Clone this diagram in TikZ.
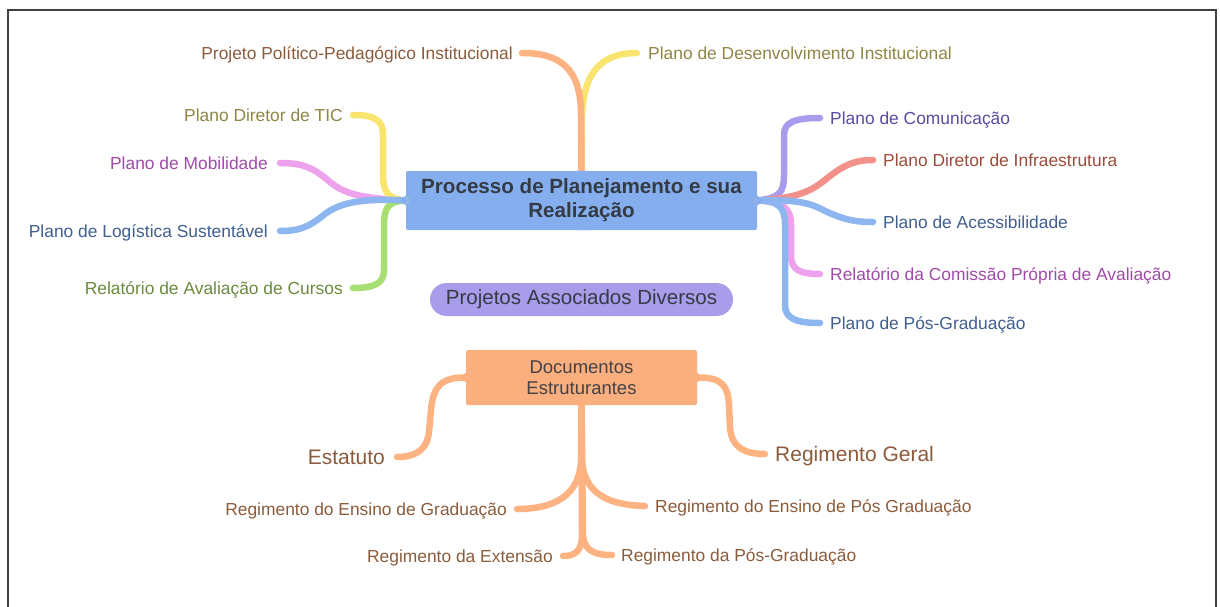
\documentclass[tikz,border=0pt]{standalone}
\usepackage{fontspec}
\setmainfont{Liberation Sans}
\definecolor{nblue}{HTML}{85AEEF}
\definecolor{npurple}{HTML}{A99CEB}
\definecolor{norange}{HTML}{FBAE7E}
\definecolor{lorange}{HTML}{FDB282}
\definecolor{lyellow}{HTML}{F8E46E}
\definecolor{lpink}{HTML}{EEA2EE}
\definecolor{lblue}{HTML}{8DB6F0}
\definecolor{lgreen}{HTML}{A8DE72}
\definecolor{lpurple}{HTML}{A89CEC}
\definecolor{lred}{HTML}{F2908A}
\definecolor{tbrown}{HTML}{8B5B3B}
\definecolor{tolive}{HTML}{8F8545}
\definecolor{tmag}{HTML}{A04AA8}
\definecolor{tnavy}{HTML}{405E8E}
\definecolor{tgreen}{HTML}{6A8A3C}
\definecolor{tpurp}{HTML}{5A4AA0}
\definecolor{tred}{HTML}{9B4B3B}
\definecolor{tdark}{HTML}{353B45}
\begin{document}
\begin{tikzpicture}[x=1pt,y=-1pt,
  lab/.style={font=\fontsize{17.4}{20}\selectfont, inner sep=0pt, text height=0.72em, text depth=0.06em, yshift=-3pt},
  biglab/.style={font=\fontsize{21}{24}\selectfont, inner sep=0pt, text height=0.72em, text depth=0.06em, yshift=-4pt},
  br/.style={line width=6.5pt, line cap=round, line join=round},
]
\useasboundingbox (0,0) rectangle (1220,606);
\draw[line width=1.2pt, black!75] (8,625) -- (8,10) -- (1216,10) -- (1216,625);

% main nodes
\node[fill=nblue, rounded corners=2pt, minimum width=351pt, minimum height=59pt, align=center,
  font=\bfseries\fontsize{20.6}{24}\selectfont, text=tdark, inner sep=0pt] (c) at (581.5,200.5)
  {Processo de Planejamento e sua\\Realização};
\node[fill=npurple, rounded corners=16.5pt, minimum width=303pt, minimum height=33pt,
  font=\fontsize{20.5}{24}\selectfont, text=tdark, inner sep=0pt] (p) at (581.5,299.5)
  {Projetos Associados Diversos};
\node[fill=norange, rounded corners=2pt, minimum width=231pt, minimum height=55pt, align=center,
  font=\fontsize{18.5}{21.5}\selectfont, text=tdark!90!brown, inner sep=0pt] (d) at (581.5,377.5)
  {Documentos\\Estruturantes};

% labels
\node[lab, anchor=east, text=tbrown] (ppi) at (513,53) {Projeto Político-Pedagógico Institucional};
\node[lab, anchor=west, text=tolive] (pdi) at (648,53) {Plano de Desenvolvimento Institucional};
\node[lab, anchor=east, text=tolive] (tic) at (343,115) {Plano Diretor de TIC};
\node[lab, anchor=east, text=tmag] (mob) at (268,163) {Plano de Mobilidade};
\node[lab, anchor=east, text=tnavy] (log) at (268,231) {Plano de Logística Sustentável};
\node[lab, anchor=east, text=tgreen] (rac) at (343,288) {Relatório de Avaliação de Cursos};
\node[lab, anchor=west, text=tpurp] (com) at (830,118) {Plano de Comunicação};
\node[lab, anchor=west, text=tred] (inf) at (883,160) {Plano Diretor de Infraestrutura};
\node[lab, anchor=west, text=tnavy] (ace) at (883,222) {Plano de Acessibilidade};
\node[lab, anchor=west, text=tmag] (rcp) at (830,274) {Relatório da Comissão Própria de Avaliação};
\node[lab, anchor=west, text=tnavy] (pos) at (830,323) {Plano de Pós-Graduação};
\node[biglab, anchor=east, text=tbrown] (est) at (385,457) {Estatuto};
\node[biglab, anchor=west, text=tbrown] (rg) at (775,454) {Regimento Geral};
\node[lab, anchor=east, text=tbrown] (reg) at (507,509) {Regimento do Ensino de Graduação};
\node[lab, anchor=west, text=tbrown] (repg) at (655,506) {Regimento do Ensino de Pós Graduação};
\node[lab, anchor=east, text=tbrown] (rext) at (553,556) {Regimento da Extensão};
\node[lab, anchor=west, text=tbrown] (rpos) at (621,555) {Regimento da Pós-Graduação};

% top branches
\draw[br, lyellow] (c.north) -- (582,115) .. controls (584,68) and (605,53) .. (637,53);
\draw[br, lorange] (c.north) -- (581,115) .. controls (581,68) and (560,53) .. (522,53);

% left branches
\draw[br, lpink] (c.west) .. controls (360,198) and (345,194) .. (330,182) .. controls (312,166) and (300,163) .. (280,163);
\draw[br, lyellow] (c.west) .. controls (388,199) and (383,192) .. (383,175) -- (383,135) .. controls (383,120) and (375,115) .. (353,115);
\draw[br, lgreen] (c.west) .. controls (388,201) and (384,208) .. (384,225) -- (384,270) .. controls (384,283) and (375,288) .. (353,288);
\draw[br, lblue] (c.west) .. controls (360,198) and (340,203) .. (325,214) .. controls (308,228) and (298,231) .. (280,231);

% right branches
\draw[br, lpink] (c.east) .. controls (785,201) and (791,210) .. (791,225) -- (791,255) .. controls (791,270) and (800,274) .. (820,274);
\draw[br, lblue] (c.east) .. controls (780,201) and (785,208) .. (785,225) -- (785,305) .. controls (785,318) and (795,323) .. (820,323);
\draw[br, lpurple] (c.east) .. controls (780,198) and (784,192) .. (784,175) -- (784,135) .. controls (784,122) and (795,118) .. (820,118);
\draw[br, lred] (c.east) .. controls (800,198) and (812,190) .. (825,180) .. controls (843,165) and (855,160) .. (873,160);
\draw[br, lblue] (c.east) .. controls (800,199) and (812,204) .. (825,211) .. controls (845,220) and (855,222) .. (873,222);

% documentos branches
\draw[br, lorange] (d.west) .. controls (442,377) and (433,386) .. (431,410) -- (429,432) .. controls (427,451) and (414,457) .. (397,457);
\draw[br, lorange] (d.east) .. controls (722,377) and (728,386) .. (729,405) -- (730,428) .. controls (732,448) and (745,454) .. (765,454);
\draw[br, lorange] (d.south) -- (581,460) .. controls (580,495) and (555,509) .. (517,509);
\draw[br, lorange] (d.south) -- (582,460) .. controls (584,495) and (610,505) .. (645,506);
\draw[br, lorange] (d.south) -- (582,535) .. controls (582,551) and (575,556) .. (563,556);
\draw[br, lorange] (d.south) -- (583,535) .. controls (584,551) and (595,555) .. (612,555);

% node tips
\fill[nblue] ([xshift=-6pt]c.north) -- ([yshift=-7pt]c.north) -- ([xshift=6pt]c.north) -- cycle;
\fill[nblue] ([xshift=-6pt]c.south) -- ([yshift=7pt]c.south) -- ([xshift=6pt]c.south) -- cycle;
\fill[nblue] ([yshift=-5pt]c.west) -- ([xshift=-6pt]c.west) -- ([yshift=5pt]c.west) -- cycle;
\fill[nblue] ([yshift=-5pt]c.east) -- ([xshift=6pt]c.east) -- ([yshift=5pt]c.east) -- cycle;
\fill[norange] ([xshift=-6pt]d.north) -- ([yshift=-7pt]d.north) -- ([xshift=6pt]d.north) -- cycle;
\fill[norange] ([xshift=-6pt]d.south) -- ([yshift=6pt]d.south) -- ([xshift=6pt]d.south) -- cycle;
\fill[norange] ([yshift=-5pt]d.west) -- ([xshift=-5pt]d.west) -- ([yshift=5pt]d.west) -- cycle;
\fill[norange] ([yshift=-5pt]d.east) -- ([xshift=5pt]d.east) -- ([yshift=5pt]d.east) -- cycle;
\end{tikzpicture}
\end{document}
